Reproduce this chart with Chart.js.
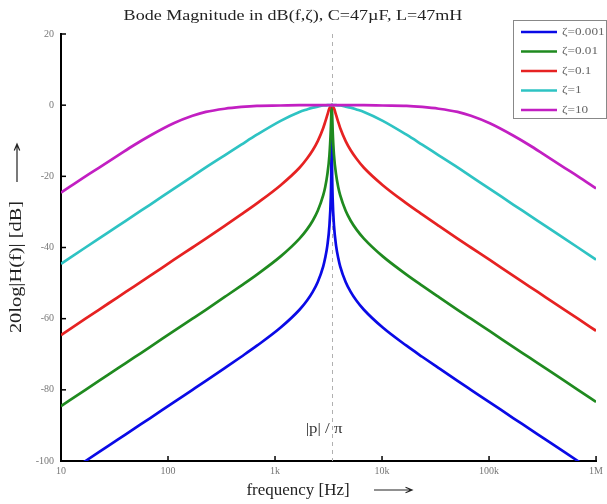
<!DOCTYPE html>
<html>
<head>
<meta charset="utf-8">
<script src="https://cdn.jsdelivr.net/npm/chart.js"></script>
<style>
  body { margin: 0; background: #fff; }
  #wrap { width: 607px; height: 504px; position: relative; }
</style>
</head>
<body>
<div id="wrap"><canvas id="bode"></canvas></div>
<script>
const freqs = [10, 16.93, 22.57, 33.86, 48.37, 67.72, 112.9, 169.3, 225.7, 338.6, 483.7, 677.2, 1128.7, 1693, 1991.8, 2257.3, 2508.1, 2821.7, 2944.3, 3078.2, 3224.8, 3319.6, 3352.5, 3369.2, 3379.2, 3382.6,
  3386,
  3389.4, 3392.8, 3402.9, 3419.9, 3453.7, 3555.3, 3724.6, 3893.9, 4063.2, 4571.1, 5079, 5756.2, 6772, 10158, 16930, 23702, 33860, 50790, 67720, 101580, 169300, 237020, 338600, 507900, 677200, 1000000];

// magnitude in dB for each zeta
const zeta0001 = [-104.6, -100.0, -97.5, -94.0, -90.9, -88.0, -83.5, -80.0, -77.5, -73.9, -70.7, -67.6, -62.5, -57.5, -54.9, -52.4, -49.7, -45.3, -42.9, -39.6, -33.8, -26.0, -20.0, -14.1, -7.0, -3.0,
  0,
  -3.0, -7.0, -14.1, -20.0, -26.0, -33.8, -39.6, -42.9, -45.3, -49.7, -52.4, -54.9, -57.5, -62.5, -67.6, -70.7, -73.9, -77.5, -80.0, -83.5, -88.0, -90.9, -94.0, -97.5, -100.0, -103.4];
const zeta001 = [-84.6, -80.0, -77.5, -74.0, -70.9, -68.0, -63.5, -60.0, -57.5, -53.9, -50.7, -47.6, -42.5, -37.5, -34.9, -32.4, -29.7, -25.3, -23.0, -19.6, -14.0, -6.9, -3.0, -1.0, -0.2, 0,
  0,
  0, -0.2, -1.0, -3.0, -6.9, -14.0, -19.6, -23.0, -25.3, -29.7, -32.4, -34.9, -37.5, -42.5, -47.6, -50.7, -53.9, -57.5, -60.0, -63.5, -68.0, -70.9, -74.0, -77.5, -80.0, -83.4];
const zeta01 = [-64.6, -60.0, -57.5, -54.0, -50.9, -48.0, -43.5, -40.0, -37.5, -33.9, -30.7, -27.6, -22.5, -17.6, -15.0, -12.6, -10.1, -6.4, -4.7, -2.8, -0.9, -0.2, 0, 0, 0, 0,
  0,
  0, 0, 0, 0, -0.2, -0.9, -2.8, -4.7, -6.4, -10.1, -12.6, -15.0, -17.6, -22.5, -27.6, -30.7, -33.9, -37.5, -40.0, -43.5, -48.0, -50.9, -54.0, -57.5, -60.0, -63.4];
const zeta1 = [-44.6, -40.0, -37.5, -34.0, -30.9, -28.0, -23.5, -20.0, -17.5, -14.1, -11.1, -8.3, -4.4, -1.9, -1.2, -0.7, -0.4, -0.1, -0.1, 0, 0, 0, 0, 0, 0, 0,
  0,
  0, 0, 0, 0, 0, 0, 0, -0.1, -0.1, -0.4, -0.7, -1.2, -1.9, -4.4, -8.3, -11.1, -14.1, -17.5, -20.0, -23.5, -28.0, -30.9, -34.0, -37.5, -40.0, -43.4];
const zeta10 = [-24.6, -20.0, -17.6, -14.2, -11.2, -8.6, -5.1, -3.0, -1.9, -1.0, -0.5, -0.2, -0.1, 0, 0, 0, 0, 0, 0, 0, 0, 0, 0, 0, 0, 0,
  0,
  0, 0, 0, 0, 0, 0, 0, 0, 0, 0, 0, 0, 0, -0.1, -0.2, -0.5, -1.0, -1.9, -3.0, -5.1, -8.6, -11.2, -14.2, -17.6, -20.0, -23.4];

const seriesNames = ['\u03b6=0.001', '\u03b6=0.01', '\u03b6=0.1', '\u03b6=1', '\u03b6=10'];
const seriesColors = ['#0a0ae6', '#1f8a1f', '#e62222', '#2ec3c3', '#c21fc2'];
const seriesValues = [zeta0001, zeta001, zeta01, zeta1, zeta10];

const xTicks = [10, 100, 1000, 10000, 100000, 1000000];
const xTickLabels = ['10', '100', '1k', '10k', '100k', '1M'];
const yTicks = [20, 0, -20, -40, -60, -80, -100];
const resonance = 3386; // |p|/pi

const serif = '"Liberation Serif", "DejaVu Serif", serif';

const datasets = seriesValues.map((vals, i) => ({
  label: seriesNames[i],
  data: vals.map((v, k) => ({ x: freqs[k], y: v })),
  borderColor: seriesColors[i],
  borderWidth: 2.7,
  pointRadius: 0,
  cubicInterpolationMode: 'monotone',
  clip: 0,
  order: 5 - i
}));

// text a bit stretched sideways, like the original figure
function wideText(ctx, txt, x, y, size, sx, align) {
  ctx.save();
  ctx.font = size + 'px ' + serif;
  ctx.textAlign = align || 'center';
  ctx.textBaseline = 'middle';
  ctx.translate(x, y);
  ctx.scale(sx, 1);
  ctx.fillText(txt, 0, 0);
  ctx.restore();
}

function arrow(ctx, x1, y1, x2, y2) {
  const ang = Math.atan2(y2 - y1, x2 - x1);
  ctx.beginPath();
  ctx.moveTo(x1, y1); ctx.lineTo(x2, y2);
  ctx.moveTo(x2 - 7 * Math.cos(ang - 0.4), y2 - 7 * Math.sin(ang - 0.4));
  ctx.lineTo(x2, y2);
  ctx.lineTo(x2 - 7 * Math.cos(ang + 0.4), y2 - 7 * Math.sin(ang + 0.4));
  ctx.stroke();
}

// dashed marker, inward ticks, texts and legend
const decor = {
  id: 'decor',
  beforeDatasetsDraw(chart) {
    const ctx = chart.ctx, xs = chart.scales.x, a = chart.chartArea;
    const px = Math.round(xs.getPixelForValue(resonance)) + 0.5;
    ctx.save();
    ctx.strokeStyle = '#b0b0b0';
    ctx.lineWidth = 1;
    ctx.setLineDash([4, 4]);
    ctx.beginPath();
    ctx.moveTo(px, a.top);
    ctx.lineTo(px, a.bottom);
    ctx.stroke();
    ctx.restore();
  },
  afterDraw(chart) {
    const ctx = chart.ctx, xs = chart.scales.x, ys = chart.scales.y, a = chart.chartArea;
    ctx.save();
    // ticks pointing into the plot
    ctx.strokeStyle = '#000';
    ctx.lineWidth = 1.5;
    xTicks.forEach(v => {
      const px = xs.getPixelForValue(v);
      ctx.beginPath(); ctx.moveTo(px, a.bottom); ctx.lineTo(px, a.bottom - 5); ctx.stroke();
    });
    yTicks.forEach(v => {
      const py = ys.getPixelForValue(v);
      ctx.beginPath(); ctx.moveTo(a.left, py); ctx.lineTo(a.left + 5, py); ctx.stroke();
    });

    // title
    ctx.fillStyle = '#222';
    wideText(ctx, 'Bode Magnitude in dB(f,\u03b6), C=47\u00b5F, L=47mH', 293, 16, 14, 1.29);

    // axis titles
    wideText(ctx, 'frequency [Hz]', 298, 491, 16, 1.06);
    ctx.strokeStyle = '#222';
    ctx.lineWidth = 1.2;
    arrow(ctx, 374, 490, 412, 490);
    ctx.save();
    ctx.translate(17, 267);
    ctx.rotate(-Math.PI / 2);
    wideText(ctx, '20log|H(f)| [dB]', 0, 0, 17, 1.2);
    ctx.restore();
    arrow(ctx, 17, 182, 17, 144);

    // |p|/pi label
    ctx.fillStyle = '#333';
    wideText(ctx, '|p| / \u03c0', xs.getPixelForValue(resonance) - 26, ys.getPixelForValue(-91), 14, 1.2, 'left');

    // legend box
    const lx = 513, ly = 20, lw = 93, lh = 98;
    ctx.fillStyle = '#fff';
    ctx.fillRect(lx, ly, lw, lh);
    ctx.strokeStyle = '#888';
    ctx.lineWidth = 1;
    ctx.strokeRect(lx + 0.5, ly + 0.5, lw, lh);
    seriesNames.forEach((name, i) => {
      const yy = ly + 12 + i * 19.5;
      ctx.strokeStyle = seriesColors[i];
      ctx.lineWidth = 2.6;
      ctx.beginPath(); ctx.moveTo(lx + 8, yy); ctx.lineTo(lx + 44, yy); ctx.stroke();
      ctx.fillStyle = '#666';
      wideText(ctx, name, lx + 49, yy, 11, 1.2, 'left');
    });
    ctx.restore();
  }
};

new Chart(document.getElementById('bode'), {
  type: 'line',
  data: { datasets: datasets },
  options: {
    responsive: true,
    maintainAspectRatio: false,
    animation: false,
    layout: { padding: { top: 34, right: 8, left: 0, bottom: 0 }, autoPadding: false },
    plugins: { legend: { display: false }, title: { display: false }, tooltip: { enabled: false } },
    scales: {
      x: {
        type: 'logarithmic',
        min: 10,
        max: 1000000,
        afterBuildTicks: s => { s.ticks = xTicks.map(v => ({ value: v })); },
        afterFit: s => { s.height = 43; },
        grid: { display: false, drawTicks: false, tickLength: 0 },
        border: { color: '#000', width: 2 },
        ticks: {
          autoSkip: false,
          maxRotation: 0,
          padding: 4,
          color: '#777',
          font: { family: serif, size: 10 },
          callback: v => { const i = xTicks.indexOf(v); return i >= 0 ? xTickLabels[i] : ''; }
        }
      },
      y: {
        min: -100,
        max: 20,
        afterBuildTicks: s => { s.ticks = yTicks.map(v => ({ value: v })); },
        afterFit: s => { s.width = 61; },
        grid: { display: false, drawTicks: false, tickLength: 0 },
        border: { color: '#000', width: 2 },
        ticks: {
          padding: 7,
          color: '#777',
          font: { family: serif, size: 10 }
        }
      }
    }
  },
  plugins: [decor]
});
</script>
</body>
</html>
